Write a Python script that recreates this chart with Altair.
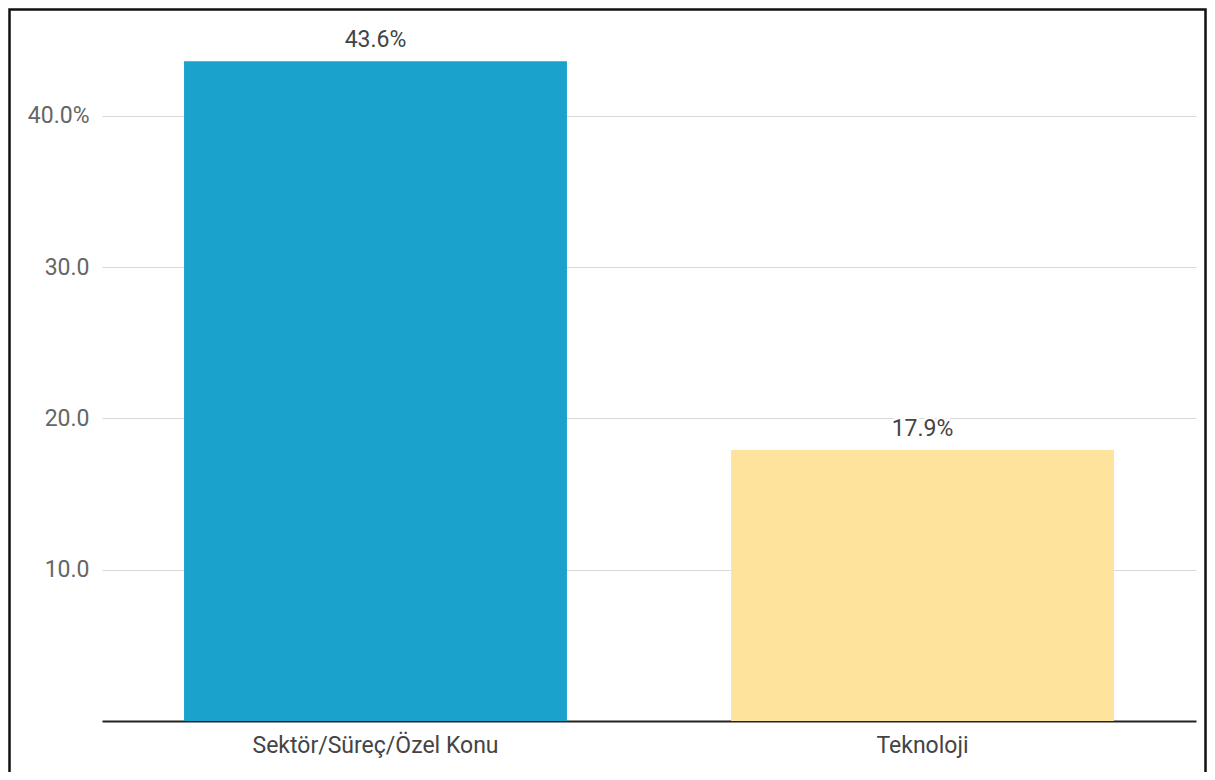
import altair as alt
import pandas as pd

categories = ["Sektör/Süreç/Özel Konu", "Teknoloji"]
values = [43.6, 17.9]
colors = ["#1aa1cc", "#fee39c"]
y_ticks = [10, 20, 30, 40]
y_tick_labels = ["10.0", "20.0", "30.0", "40.0%"]

df = pd.DataFrame({"category": categories, "value": values})
df["label"] = [f"{v:.1f}%" for v in values]

label_expr = "''"
for t, l in zip(y_ticks, y_tick_labels):
    label_expr = f"datum.value == {t} ? '{l}' : ({label_expr})"

FONT = "Roboto"

x_enc = alt.X(
    "category:N",
    sort=categories,
    scale=alt.Scale(paddingInner=0.3, paddingOuter=0.15),
    axis=alt.Axis(
        title=None, labelAngle=0, labelFontSize=23, labelColor="#444444",
        labelFont=FONT, labelPadding=13, labelLimit=0, ticks=False, grid=False,
        domainColor="#222222", domainWidth=2,
    ),
)
y_enc = alt.Y(
    "value:Q",
    scale=alt.Scale(domain=[0, 45], nice=False, zero=True),
    axis=alt.Axis(
        title=None, values=y_ticks, labelExpr=label_expr, labelFontSize=23,
        labelColor="#666666", labelFont=FONT, labelPadding=13, ticks=False,
        domain=False, grid=True, gridColor="#d9d9d9", gridWidth=1.2,
    ),
)

base = alt.Chart(df)

bars = base.mark_bar().encode(
    x=x_enc,
    y=y_enc,
    color=alt.Color("category:N", scale=alt.Scale(domain=categories, range=colors), legend=None),
)

halo = base.mark_text(
    dy=-14, baseline="alphabetic", fontSize=23, font=FONT,
    stroke="white", strokeWidth=5, color="white",
).encode(x=alt.X("category:N", sort=categories), y="value:Q", text="label:N")

labels = base.mark_text(
    dy=-14, baseline="alphabetic", fontSize=23, font=FONT, color="#444444",
).encode(x=alt.X("category:N", sort=categories), y="value:Q", text="label:N")

frame = alt.Chart(pd.DataFrame({"a": [0]})).mark_rect(
    fillOpacity=0, stroke="#111111", strokeWidth=2.5
).encode(
    x=alt.value(9.5 - 102), x2=alt.value(1205.5 - 102),
    y=alt.value(9.5 - 40), y2=alt.value(820 - 40),
)

chart = alt.layer(bars, halo, labels, frame).properties(
    width=1094, height=681,
    background="white",
    autosize=alt.AutoSizeParams(type="none"),
    padding={"left": 94, "top": 32, "right": 11, "bottom": 51},
).configure_view(stroke="transparent", strokeWidth=0)

chart.save("out.html", embed_options={"renderer": "svg", "actions": False})
